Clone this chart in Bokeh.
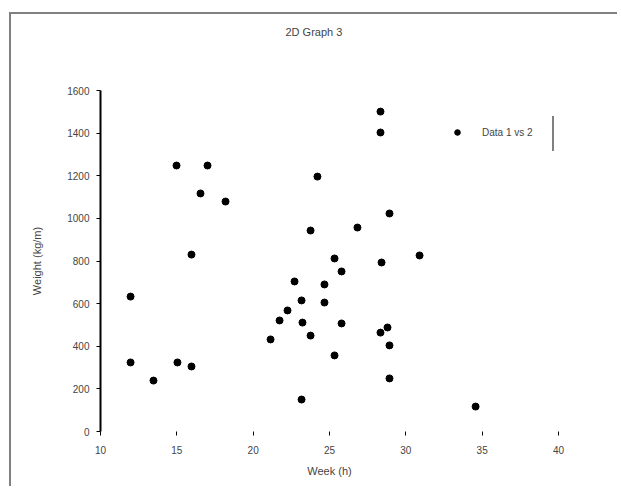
from bokeh.plotting import figure
from bokeh.models import FixedTicker, Legend, LegendItem, Range1d, Title
from bokeh.embed import file_html
from bokeh.resources import INLINE

FONT = "Liberation Sans"

title = "2D Graph 3"
x_label = "Week (h)"
y_label = "Weight (kg/m)"
series_name = "Data 1 vs 2"

x_ticks = [10, 15, 20, 25, 30, 35, 40]
y_ticks = [0, 200, 400, 600, 800, 1000, 1200, 1400, 1600]

x_vals = [11.97, 11.97, 13.47, 15.04, 15.96, 14.98, 17.01, 16.55, 18.19, 15.96,
          21.14, 21.73, 22.25, 22.71, 23.17, 23.23, 23.17, 23.76, 23.76, 24.21,
          24.67, 24.67, 25.33, 25.33, 25.79, 25.79, 26.83, 28.34, 28.34, 28.41,
          28.34, 28.80, 28.93, 28.93, 28.93, 30.90, 34.57]
y_vals = [633, 324, 239, 324, 305, 1248, 1248, 1117, 1079, 830,
          432, 521, 568, 704, 615, 511, 150, 450, 943, 1196,
          690, 605, 812, 357, 507, 751, 957, 1501, 1403, 793,
          464, 488, 1023, 404, 249, 826, 117]

# page frame lines (top, left) and the legend's right rule, drawn behind a transparent canvas
GRAY = "linear-gradient(#808080,#808080)"
page_bg = ", ".join([
    GRAY + " 9px 12px / 100% 2px no-repeat",
    GRAY + " 9px 12px / 2px 100% no-repeat",
    GRAY + " 552px 116px / 2px 35px no-repeat",
    "white",
])


def main():
    p = figure(width=617, height=486, output_backend="svg", toolbar_location=None,
               x_range=Range1d(10, 40), y_range=Range1d(0, 1600),
               min_border_left=100, min_border_right=59, min_border_top=90,
               min_border_bottom=55, title=None,
               border_fill_alpha=0, background_fill_alpha=0,
               styles={"background": page_bg})
    # empty spacer keeps the title well above the frame
    p.add_layout(Title(text=" ", text_font_size="45px", standoff=0), "above")
    p.add_layout(Title(text=title, align="left", offset=185, standoff=0,
                       text_font=FONT, text_font_size="11px",
                       text_font_style="normal"), "above")
    p.outline_line_color = None
    p.grid.visible = False

    r = p.scatter(x_vals, y_vals, size=7, marker="circle", color="black")

    p.xaxis.ticker = FixedTicker(ticks=x_ticks)
    p.yaxis.ticker = FixedTicker(ticks=y_ticks)
    for ax in (p.xaxis, p.yaxis):
        ax.minor_tick_line_color = None
        ax.major_tick_in = 0
        ax.major_tick_out = 4
        ax.major_label_text_font = FONT
        ax.major_label_text_font_size = "10px"
        ax.axis_label_text_font = FONT
        ax.axis_label_text_font_size = "11px"
        ax.axis_label_text_font_style = "normal"
    p.xaxis.axis_line_color = None
    p.xaxis.major_label_standoff = 10
    p.xaxis.axis_label = x_label
    p.xaxis.axis_label_standoff = 8
    p.yaxis.axis_line_width = 2
    p.yaxis.major_label_standoff = 7
    p.yaxis.axis_label = y_label
    p.yaxis.axis_label_standoff = 21

    legend = Legend(items=[LegendItem(label=series_name, renderers=[r])],
                    location=(350, 289), margin=0, padding=6,
                    border_line_color=None, background_fill_alpha=0,
                    label_text_font=FONT, label_text_font_size="10px",
                    glyph_width=14, label_standoff=18)
    p.add_layout(legend)

    open("out.html", "w").write(file_html(p, INLINE))


if __name__ == '__main__':
    main()
